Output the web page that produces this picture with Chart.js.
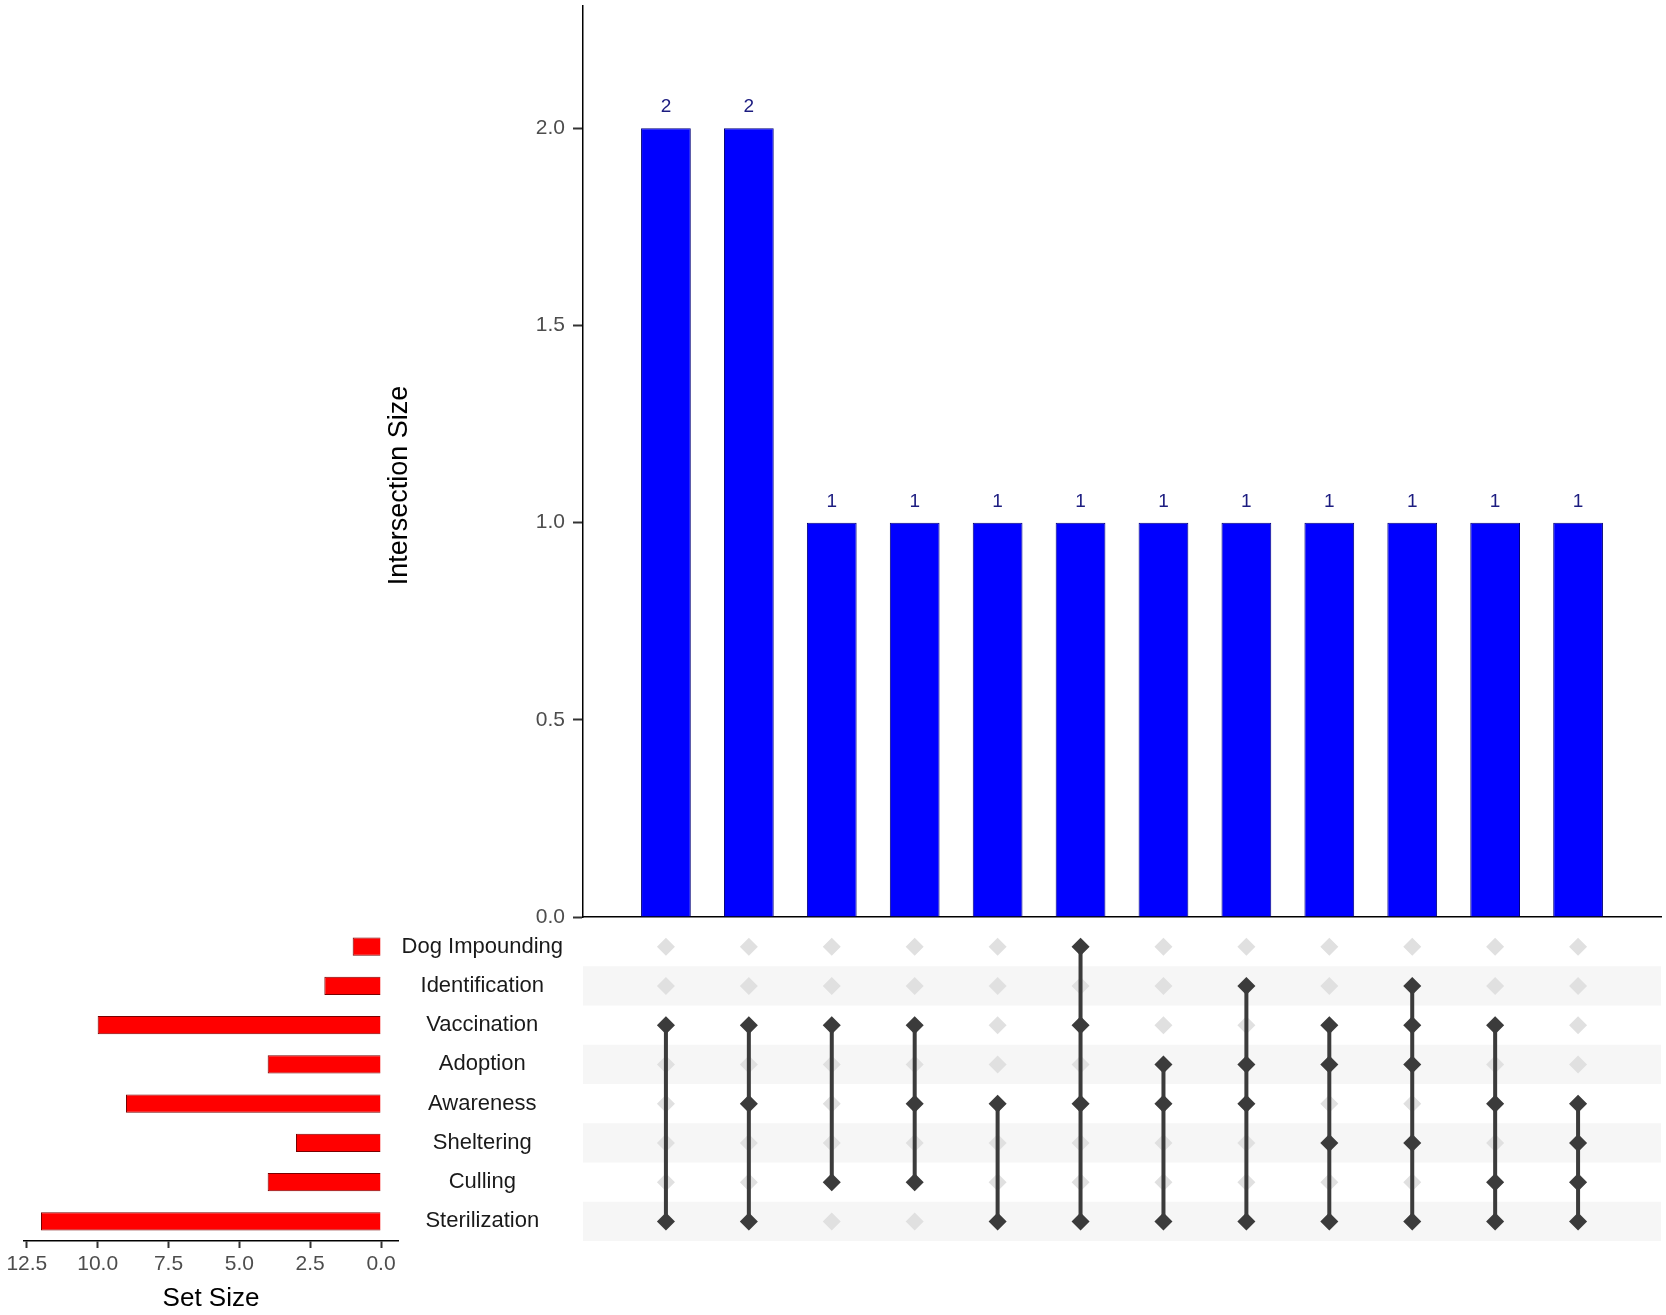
<!DOCTYPE html>
<html><head><meta charset="utf-8">
<script src="https://cdn.jsdelivr.net/npm/chart.js@4.4.1/dist/chart.umd.min.js"></script>
<style>
html,body{margin:0;padding:0;background:#fff;width:1666px;height:1315px;overflow:hidden;}
canvas{position:absolute;}
</style></head><body>
<canvas id="main" width="1286" height="930" style="left:380px;top:0px"></canvas>
<canvas id="matrix" width="1286" height="324" style="left:380px;top:917px"></canvas>
<canvas id="sets" width="400" height="415" style="left:0px;top:900px"></canvas>
<script>
const setNames = ['Dog Impounding','Identification','Vaccination','Adoption','Awareness','Sheltering','Culling','Sterilization'];
const setSizes = [1,2,10,4,9,3,4,12];
const intersectionSizes = [2,2,1,1,1,1,1,1,1,1,1,1];
const intersectionMembers = [
  ['Vaccination','Sterilization'],
  ['Vaccination','Awareness','Sterilization'],
  ['Vaccination','Culling'],
  ['Vaccination','Awareness','Culling'],
  ['Awareness','Sterilization'],
  ['Dog Impounding','Vaccination','Awareness','Sterilization'],
  ['Adoption','Awareness','Sterilization'],
  ['Identification','Adoption','Awareness','Sterilization'],
  ['Vaccination','Adoption','Sheltering','Sterilization'],
  ['Identification','Vaccination','Adoption','Sheltering','Sterilization'],
  ['Vaccination','Awareness','Culling','Sterilization'],
  ['Awareness','Sheltering','Culling','Sterilization']
];
const intersectionTicks = [0, 0.5, 1.0, 1.5, 2.0];
const setSizeTicks = [0, 2.5, 5, 7.5, 10, 12.5];

const FONT = "'Liberation Sans', Arial, sans-serif";
Chart.defaults.font.family = FONT;

function noPad(s) { s.paddingTop = 0; s.paddingBottom = 0; s.paddingLeft = 0; s.paddingRight = 0; }

const barLabels = {
  id: 'barLabels',
  afterDatasetsDraw(chart) {
    const ctx = chart.ctx;
    const meta = chart.getDatasetMeta(0);
    ctx.save();
    ctx.font = '19px ' + FONT;
    ctx.fillStyle = '#1c1c80';
    ctx.textAlign = 'center';
    ctx.textBaseline = 'middle';
    meta.data.forEach((el, i) => {
      ctx.fillText(String(intersectionSizes[i]), el.x, el.y - 21);
    });
    ctx.restore();
  }
};

const yTitle = {
  id: 'yTitle',
  afterDraw(chart) {
    const ctx = chart.ctx;
    const a = chart.chartArea;
    ctx.save();
    ctx.translate(20, (a.top + a.bottom) / 2 + 24);
    ctx.rotate(-Math.PI / 2);
    ctx.font = '27px ' + FONT;
    ctx.fillStyle = '#000';
    ctx.textAlign = 'center';
    ctx.textBaseline = 'middle';
    ctx.fillText('Intersection Size', 0, 0);
    ctx.restore();
  }
};

new Chart(document.getElementById('main'), {
  type: 'bar',
  data: {
    datasets: [{
      data: intersectionSizes.map((v, i) => ({x: i + 1, y: v})),
      backgroundColor: '#0000ff',
      borderColor: '#00007a',
      borderWidth: 1,
      barPercentage: 0.6,
      categoryPercentage: 1
    }]
  },
  options: {
    responsive: false, animation: false, events: [],
    layout: {padding: {top: 6, right: 5, left: 0, bottom: 0}, autoPadding: false},
    plugins: {legend: {display: false}, tooltip: {enabled: false}},
    scales: {
      x: {
        type: 'linear', min: 0, max: 13, offset: false,
        ticks: {display: false},
        grid: {display: false, drawTicks: false, offset: false},
        border: {display: true, color: '#000', width: 1.5},
        afterFit: s => { s.height = 13; noPad(s); }
      },
      y: {
        min: 0, max: 2.31,
        afterBuildTicks: s => { s.ticks = intersectionTicks.map(v => ({value: v})); },
        ticks: {font: {size: 21}, color: '#4d4d4d', padding: 8, callback: v => Number(v).toFixed(1)},
        grid: {drawOnChartArea: false, drawTicks: true, tickLength: 10, tickColor: '#333', tickWidth: 2},
        border: {display: true, color: '#000', width: 1.5},
        afterFit: s => { s.width = 203; noPad(s); }
      }
    }
  },
  plugins: [barLabels, yTitle]
});

const stripes = {
  id: 'stripes',
  beforeDatasetsDraw(chart) {
    const ctx = chart.ctx;
    const a = chart.chartArea;
    const y = chart.scales.y;
    const band = y.getPixelForValue(1) - y.getPixelForValue(0);
    ctx.save();
    ctx.fillStyle = '#f6f6f6';
    setNames.forEach((s, i) => {
      if (i % 2 === 1) {
        const c = y.getPixelForValue(i);
        ctx.fillRect(a.left, c - band / 2, a.right - a.left, band);
      }
    });
    ctx.restore();
  }
};

const allDots = [];
setNames.forEach(s => intersectionMembers.forEach((m, i) => allDots.push({x: i + 1, y: s})));
const activeDots = [];
intersectionMembers.forEach((m, i) => m.forEach(s => activeDots.push({x: i + 1, y: s})));
const lineSets = intersectionMembers.map((m, i) => {
  const idx = m.map(s => setNames.indexOf(s));
  const lo = Math.min(...idx), hi = Math.max(...idx);
  return {
    type: 'line',
    data: [{x: i + 1, y: setNames[lo]}, {x: i + 1, y: setNames[hi]}],
    borderColor: '#3b3b3b', borderWidth: 4, pointRadius: 0, fill: false, order: 2
  };
});

new Chart(document.getElementById('matrix'), {
  type: 'scatter',
  data: {
    datasets: [
      {data: allDots, pointStyle: 'rectRot', pointRadius: 9, backgroundColor: '#e0e0e0', borderColor: '#e0e0e0', borderWidth: 0, order: 3},
      ...lineSets,
      {data: activeDots, pointStyle: 'rectRot', pointRadius: 9, backgroundColor: '#3b3b3b', borderColor: '#3b3b3b', borderWidth: 0, order: 1}
    ]
  },
  options: {
    responsive: false, animation: false, events: [],
    layout: {padding: {top: 10, right: 5, left: 0, bottom: 0}, autoPadding: false},
    plugins: {legend: {display: false}, tooltip: {enabled: false}},
    scales: {
      x: {type: 'linear', min: 0, max: 13, display: false, offset: false},
      y: {
        type: 'category', labels: setNames, offset: true,
        ticks: {font: {size: 22}, color: '#1a1a1a', crossAlign: 'center', padding: 20},
        grid: {display: false, drawTicks: false},
        border: {display: false},
        afterFit: s => { s.width = 203; noPad(s); }
      }
    }
  },
  plugins: [stripes]
});

new Chart(document.getElementById('sets'), {
  type: 'bar',
  data: {
    labels: setNames,
    datasets: [{
      data: setSizes,
      backgroundColor: '#ff0000',
      borderColor: '#7a0000',
      borderWidth: 1,
      barPercentage: 0.46,
      categoryPercentage: 1
    }]
  },
  options: {
    indexAxis: 'y',
    responsive: false, animation: false, events: [],
    layout: {padding: {top: 27, left: 24, right: 2, bottom: 0}, autoPadding: false},
    plugins: {legend: {display: false}, tooltip: {enabled: false}},
    scales: {
      y: {display: false, offset: true},
      x: {
        type: 'linear', min: -0.6, max: 12.6, reverse: true,
        afterBuildTicks: s => { s.ticks = setSizeTicks.map(v => ({value: v})); },
        ticks: {font: {size: 21}, color: '#4d4d4d', padding: 4, maxRotation: 0, autoSkip: false, callback: v => Number(v).toFixed(1)},
        grid: {drawOnChartArea: false, drawTicks: true, tickLength: 7, tickColor: '#333', tickWidth: 2},
        border: {display: true, color: '#000', width: 1.5},
        title: {display: true, text: 'Set Size', font: {size: 26}, color: '#000', padding: {top: 0, bottom: 1}},
        afterFit: s => { s.height = 74; noPad(s); }
      }
    }
  }
});
</script>
</body></html>
